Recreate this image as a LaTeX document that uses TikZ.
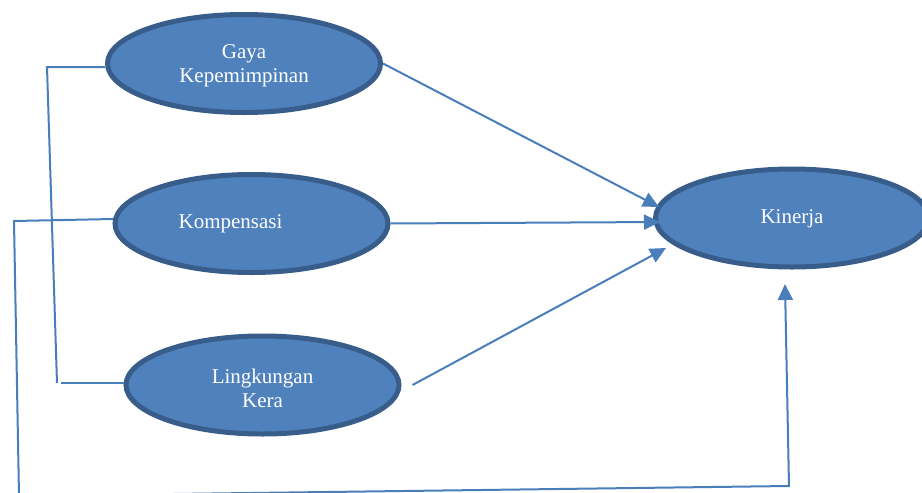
\documentclass[tikz,border=0pt]{standalone}
\usepackage{fontspec}
\setmainfont{Liberation Serif}
\usetikzlibrary{arrows.meta,shapes.geometric}
\definecolor{efill}{HTML}{4F81BD}
\definecolor{edraw}{HTML}{385D8A}
\definecolor{linecol}{HTML}{4A7EBB}
\begin{document}
\begin{tikzpicture}[x=1pt,y=-1pt,
  var/.style={ellipse, draw=edraw, fill=efill, line width=5pt,
    minimum width=273pt, minimum height=98pt, inner sep=0pt,
    text=white, font=\fontsize{21}{24}\selectfont, align=center},
  vtext/.style={text=white, font=\fontsize{21}{24}\selectfont, inner sep=0pt},
  conn/.style={draw=linecol, line width=2pt},
  arr/.style={conn, -{Triangle[length=16pt,width=15pt]}}]
\useasboundingbox (0,0) rectangle (922,493);
\clip (0,0) rectangle (922,493);
% nodes
\node[var] (gaya) at (244,63.5) {};
\node[vtext, align=center] (gayat) at (244,66) {Gaya\\Kepemimpinan};
\node[var] (komp) at (251.5,223.5) {};
\node[vtext] (kompt) at (230.5,224) {Kompensasi};
\node[var] (ling) at (262.5,385) {};
\node[vtext, align=center] (lingt) at (262.5,388) {Lingkungan\\Kera};
\node[var] (kin) at (792,218) {};
\node[vtext] (kint) at (792,219) {Kinerja};
% helper coordinates
\coordinate (c1) at (47,67);
\coordinate (c2) at (57,383);
\coordinate (c3) at (61,383);
\coordinate (k1) at (113,219);
\coordinate (c4) at (14,221);
\coordinate (c6) at (19,496);
\coordinate (c7) at (789,486);
\coordinate (t1) at (659,207);
\coordinate (t2) at (660,222);
\coordinate (t3) at (666,248);
\coordinate (t4) at (785,284);
% left brackets
\draw[conn] (gaya.west |- c1) -- (c1) -- (c2);
\draw[conn] (c3) -- (ling.west |- c3);
\draw[arr] (k1) -- (c4) -- (c6) -- (c7) -- (t4);
% arrows to Kinerja
\draw[arr] (gaya.east) -- (t1);
\draw[arr] (komp.east) -- (t2);
\draw[arr] ([xshift=11pt]ling.east) -- (t3);
\end{tikzpicture}
\end{document}
